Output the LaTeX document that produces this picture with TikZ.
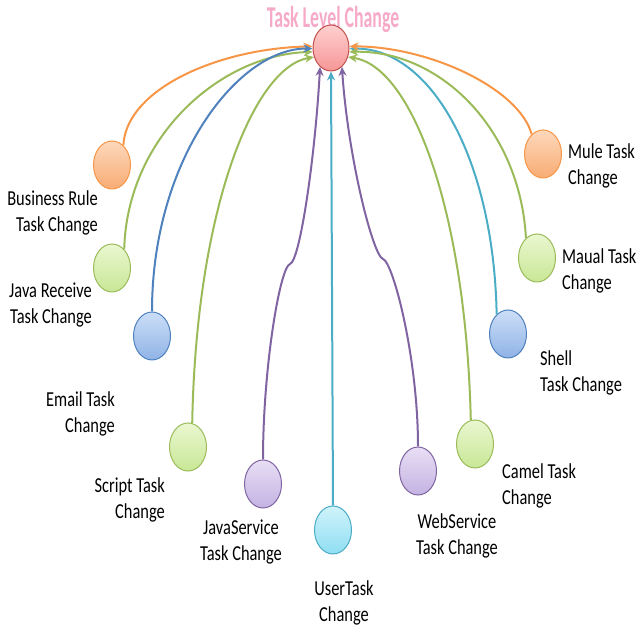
\documentclass[tikz,border=0pt]{standalone}
\usepackage{fontspec}
\setmainfont{Carlito}
\usetikzlibrary{shapes.geometric,arrows.meta}

\definecolor{orline}{HTML}{F79646}
\definecolor{ortop}{HTML}{FDD8BC}
\definecolor{orbot}{HTML}{F8AC74}
\definecolor{grline}{HTML}{9BBB59}
\definecolor{grtop}{HTML}{EAF7D0}
\definecolor{grbot}{HTML}{C8E796}
\definecolor{blline}{HTML}{4F81BD}
\definecolor{bltop}{HTML}{CCDEF7}
\definecolor{blbot}{HTML}{8FB3E6}
\definecolor{puline}{HTML}{8064A2}
\definecolor{putop}{HTML}{E8DFF5}
\definecolor{pubot}{HTML}{C4B2E2}
\definecolor{cyline}{HTML}{4BACC6}
\definecolor{cytop}{HTML}{D0F3FB}
\definecolor{cybot}{HTML}{8FDEF2}
\definecolor{pkline}{HTML}{C0504D}
\definecolor{pktop}{HTML}{FFD0D0}
\definecolor{pkbot}{HTML}{F69696}
\definecolor{pktext}{HTML}{F6AAC8}

\tikzset{
  task/.style={ellipse, draw=#1line, line width=1pt, top color=#1top, bottom color=#1bot,
    minimum width=37pt, minimum height=48pt, inner sep=0pt},
  tlabel/.style={font=\fontsize{16.4}{20}\selectfont, inner sep=0pt, yscale=1.3},
  link/.style={draw=#1line, line width=2pt, -{Stealth[length=9pt,width=8pt]}},
}

\begin{document}
\begin{tikzpicture}[x=1pt,y=1pt]
  \useasboundingbox (0,0) rectangle (636,628);
  % Title and center
  \node[anchor=base, inner sep=0pt, text=pktext, font=\bfseries\fontsize{17.8}{20}\selectfont, yscale=1.7] (ttl) at (333,600) {Task Level Change};
  \node[task=pk, minimum width=36pt, minimum height=46pt] (tlc) at (331,580) {};
  % Task circles
  \foreach \n/\x/\y/\c in {br/112/463/or, jr/112/360/gr, em/152/292/bl, sc/188/181/gr,
      js/263/144/pu, ut/333/98/cy, ws/418/157/pu, cm/475/184/gr,
      sh/508/294/bl, ma/537/370/gr, mu/543/474/or} {
    \node[task=\c] (\n) at (\x,\y) {};
  }
  % Labels left
  \node[tlabel, align=right, anchor=east] (brl) at (98,415) {Business Rule\\Task Change};
  \node[tlabel, align=right, anchor=east] (jrl) at (92,323) {Java Receive\\Task Change};
  \node[tlabel, align=right, anchor=east] (eml) at (115,214) {Email Task\\Change};
  \node[tlabel, align=right, anchor=east] (scl) at (165,128) {Script Task\\Change};
  \node[tlabel, align=center] (jsl) at (241,86) {JavaService\\Task Change};
  \node[tlabel, align=center] (utl) at (344,25) {UserTask\\Change};
  % Labels right
  \node[tlabel, align=center] (wsl) at (457,92) {WebService\\Task Change};
  \node[tlabel, align=left, anchor=west] (cml) at (502,142) {Camel Task\\Change};
  \node[tlabel, align=left, anchor=west] (shl) at (540,255) {Shell\\Task Change};
  \node[tlabel, align=left, anchor=west] (mal) at (562,357) {Maual Task\\Change};
  \node[tlabel, align=left, anchor=west] (mul) at (568,462) {Mule Task\\Change};
  % Links
  \draw[link=or] (br.60) .. controls +(3,57) and +(-93,-2) .. (tlc.175);
  \draw[link=gr] (jr.57) .. controls +(3,112) and +(-93,-3) .. (tlc.192);
  \draw[link=bl] (em.north) .. controls +(0,154) and +(-73,1) .. (tlc.182);
  \draw[link=gr] (sc.80) .. controls +(4,215) and +(-60,-10) .. (tlc.208);
  \coordinate (jsk) at (290,364);
  \draw[link=pu] (js.north) .. controls +(0,92) and +(-10,-3) .. (jsk)
    .. controls +(10,3) and +(-5,-90) .. (tlc.240);
  \draw[link=cy] (ut.north) -- (tlc.south);
  \coordinate (wsk) at (383,369);
  \draw[link=pu] (ws.north) .. controls +(0,89) and +(10,-3) .. (wsk)
    .. controls +(-10,3) and +(6,-90) .. (tlc.300);
  \draw[link=gr] (cm.100) .. controls +(-5,212) and +(63,-9) .. (tlc.332);
  \draw[link=cy] (sh.120) .. controls +(-3,156) and +(81,1) .. (tlc.358);
  \draw[link=gr] (ma.119) .. controls +(-6,109) and +(91,2) .. (tlc.348);
  \draw[link=or] (mu.120) .. controls +(-12,45) and +(81,0) .. (tlc.5);
\end{tikzpicture}
\end{document}
